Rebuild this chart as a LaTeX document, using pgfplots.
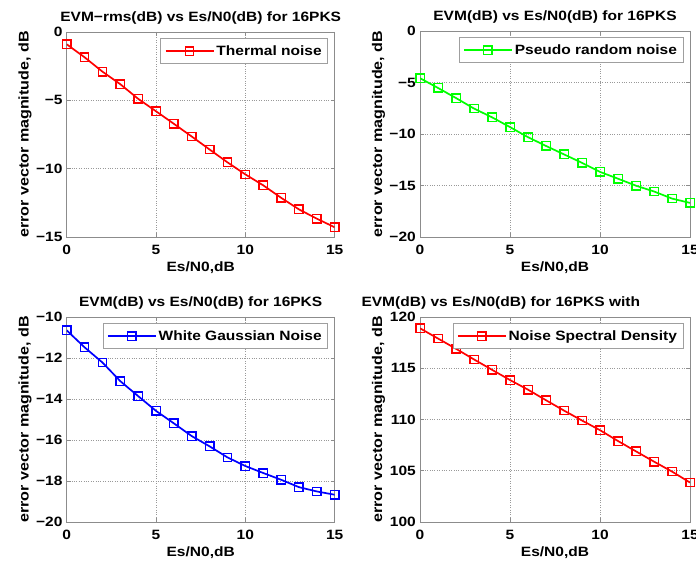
\documentclass[border=0pt]{standalone}
\usepackage{fontspec}
\setmainfont{Liberation Sans}[FakeStretch=1.15]
\usepackage{pgfplots}
\pgfplotsset{compat=1.18}

\definecolor{frame}{gray}{0.55}

\pgfplotsset{
  evm/.style={
    scale only axis, width=268pt, height=205pt, anchor=south west,
    xmin=0, xmax=15, xtick={0,5,10,15}, xticklabels={0,5,10,15},
    /pgf/number format/assume math mode=true,
    axis line style={frame, line width=0.8pt},
    tick style={frame, line width=0.6pt}, tick align=inside, major tick length=4pt,
    grid=major, major grid style={dotted, gray!80, line width=0.7pt},
    xticklabel style={inner sep=0pt, anchor=north, yshift=-8pt},
    yticklabel style={inner sep=0pt, anchor=east, xshift=-4pt},
    every axis title/.style={at={(rel axis cs:0.5,1)}, anchor=base, yshift=10pt},
    every axis x label/.style={at={(rel axis cs:0.5,0)}, anchor=base, yshift=-35pt},
    every axis y label/.style={at={(rel axis cs:0,0.5)}, rotate=90, anchor=base, yshift=38pt,
      font=\fontsize{14}{16}\selectfont\bfseries},
    xlabel={Es/N0,dB}, ylabel={error vector magnitude, dB},
    legend style={at={(rel axis cs:0.975,0.97)}, anchor=north east, draw=gray!75,
      line width=0.6pt, fill=white, inner xsep=4pt, inner ysep=5pt, legend cell align=left},
    legend image code/.code={\draw[mark repeat=2,mark phase=2] plot coordinates {(0pt,0pt)(24pt,0pt)(48pt,0pt)};},
  },
  evmline/.style={line width=1.7pt, mark=square, mark size=4.2pt, mark options={solid, line width=1.4pt, fill=none}},
}

\begin{document}
\begin{tikzpicture}[font=\fontsize{13.5}{16}\selectfont\bfseries]

% top left
\begin{axis}[evm, at={(66.7pt,330pt)},
  ymin=-15, ymax=0, ytick={-15,-10,-5,0}, yticklabels={−15,−10,−5,0},
  title={EVM−rms(dB) vs Es/N0(dB) for 16PKS}]
\addplot[evmline, color=red] coordinates {
(0,-0.90)(1,-1.85)(2,-2.90)(3,-3.82)(4,-4.89)(5,-5.80)(6,-6.72)(7,-7.65)
(8,-8.60)(9,-9.54)(10,-10.42)(11,-11.22)(12,-12.13)(13,-12.98)(14,-13.66)(15,-14.29)};
\legend{Thermal noise}
\end{axis}

% top right
\begin{axis}[evm, at={(420pt,330pt)}, width=270pt, height=206pt,
  ymin=-20, ymax=0, ytick={-20,-15,-10,-5,0}, yticklabels={−20,−15,−10,−5,0},
  title={EVM(dB) vs Es/N0(dB) for 16PKS}]
\addplot[evmline, color=green] coordinates {
(0,-4.58)(1,-5.53)(2,-6.51)(3,-7.53)(4,-8.38)(5,-9.33)(6,-10.31)(7,-11.16)
(8,-11.98)(9,-12.80)(10,-13.68)(11,-14.34)(12,-15.02)(13,-15.58)(14,-16.27)(15,-16.69)};
\legend{Pseudo random noise}
\end{axis}

% bottom left
\begin{axis}[evm, at={(66.7pt,45pt)},
  ymin=-20, ymax=-10, ytick={-20,-18,-16,-14,-12,-10}, yticklabels={−20,−18,−16,−14,−12,−10},
  title={EVM(dB) vs Es/N0(dB) for 16PKS}]
\addplot[evmline, color=blue] coordinates {
(0,-10.65)(1,-11.48)(2,-12.22)(3,-13.13)(4,-13.86)(5,-14.58)(6,-15.19)(7,-15.81)
(8,-16.31)(9,-16.85)(10,-17.27)(11,-17.61)(12,-17.94)(13,-18.30)(14,-18.51)(15,-18.67)};
\legend{White Gaussian Noise}
\end{axis}

% bottom right
\begin{axis}[evm, at={(420pt,45pt)}, width=270pt,
  ymin=100, ymax=120, ytick={100,105,110,115,120}, yticklabels={100,105,110,115,120},
  every axis title/.style={at={(rel axis cs:0,1)}, anchor=base west, xshift=-62pt, yshift=10pt},
  title={EVM(dB) vs Es/N0(dB) for 16PKS with}]
\addplot[evmline, color=red] coordinates {
(0,118.90)(1,117.90)(2,116.90)(3,115.86)(4,114.85)(5,113.85)(6,112.91)(7,111.88)
(8,110.87)(9,109.90)(10,108.96)(11,107.90)(12,106.89)(13,105.89)(14,104.92)(15,103.85)};
\legend{Noise Spectral Density}
\end{axis}

\pgfresetboundingbox
\path[use as bounding box] (0,0) rectangle (696pt,567pt);
\end{tikzpicture}
\end{document}
